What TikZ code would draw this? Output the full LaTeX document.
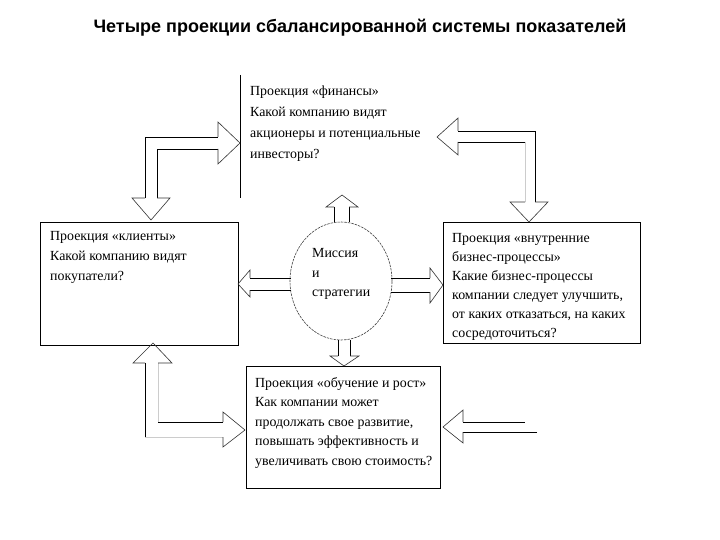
\documentclass[tikz,border=0pt]{standalone}
\usepackage{fontspec}
\setmainfont{Liberation Serif}
\newfontfamily\titlefont{Liberation Sans}
\usetikzlibrary{shapes.geometric}
\begin{document}
\begin{tikzpicture}[x=1pt,y=-1pt,
 box/.style={draw,line width=0.8pt,inner sep=0,anchor=north west},
 txt/.style={anchor=north west,align=left,inner sep=0},
 blk/.style={line width=0.7pt,line join=miter},
 hd/.style={line width=0.6pt,black!80},
 faint/.style={line width=0.5pt,black!20}]
\useasboundingbox (0,0) rectangle (720,540);
\fill[white] (0,0) rectangle (720,540);

% title
\node[font=\titlefont\bfseries\fontsize{18}{22}\selectfont] (title) at (360,28) {Четыре проекции сбалансированной системы показателей};

% boxes
\draw[line width=0.8pt] (240,75) -- (240,198);
\coordinate (fin) at (240,143);
\node[box,minimum width=198,minimum height=123] (cli) at (40,222) {};
\node[box,minimum width=197,minimum height=121] (proc) at (443,222) {};
\node[box,minimum width=194,minimum height=122] (learn) at (246,366) {};
\node[draw,black!75,line width=0.6pt,dash pattern=on 2.5pt off 1pt,ellipse,minimum width=102,minimum height=118,inner sep=0] (mis) at (341,281) {};

% texts
\node[txt,font=\fontsize{13.9}{21}\selectfont] (ftxt) at (250,85.5) {Проекция «финансы»\\Какой компанию видят\\акционеры и потенциальные\\инвесторы?};
\node[txt,font=\fontsize{13.9}{20}\selectfont] (ctxt) at (50,231.5) {Проекция «клиенты»\\Какой компанию видят\\покупатели?};
\node[txt,font=\fontsize{13.9}{19}\selectfont] (ptxt) at (452,233.5) {Проекция «внутренние\\бизнес-процессы»\\Какие бизнес-процессы\\компании следует улучшить,\\от каких отказаться, на каких\\сосредоточиться?};
\node[txt,font=\fontsize{13.9}{19.5}\selectfont] (ltxt) at (255,377) {Проекция «обучение и рост»\\Как компании может\\продолжать свое развитие,\\повышать эффективность и\\увеличивать свою стоимость?};
\node[txt,font=\fontsize{13.9}{19.5}\selectfont] (mtxt) at (312,248.5) {Миссия\\и\\стратегии};

% arrow A: finance <-> clients
\draw[blk] (145,198) -- (145,137) -- (218,137);
\draw[blk] (157,198) -- (157,149) -- (218,149);
\draw[hd] (218,137) -- (218,122) -- (240,143) -- (218,164) -- (218,149);
\draw[hd] (145,198) -- (132,198) -- (151,220) -- (170,198) -- (157,198);

% arrow B: finance <-> processes
\draw[blk] (458,131) -- (535,131) -- (535,202);
\draw[blk] (458,142) -- (525,142);
\draw[faint] (525,142) -- (525,202);
\draw[hd] (458,131) -- (458,118) -- (437,137) -- (458,155) -- (458,142);
\draw[hd] (535,202) -- (548,202) -- (529,222) -- (510,202) -- (525,202);

% arrow C: clients <-> learning
\draw[blk] (145,363) -- (145,437);
\draw[blk] (158,422) -- (223,422);
\draw[faint] (158,363) -- (158,422);
\draw[faint] (145,437) -- (223,437);
\draw[hd] (145,363) -- (133,363) -- (153,343) -- (172,363) -- (158,363);
\draw[hd] (223,422) -- (223,412) -- (245,430) -- (223,447) -- (223,437);

% arrow D: processes -> learning
\draw[blk] (537,432) -- (463,432);
\draw[blk] (463,422) -- (525,422);
\draw[hd] (463,432) -- (463,443) -- (443,427) -- (463,410) -- (463,422);

% arrow E: mission -> clients
\draw[blk] (291,278) -- (250,278);
\draw[blk] (291,290) -- (250,290);
\draw[hd] (250,278) -- (250,270) -- (238,284) -- (250,297) -- (250,290);

% arrow F: mission -> processes
\draw[blk] (391,278) -- (430,278);
\draw[blk] (391,292) -- (430,292);
\draw[hd] (430,278) -- (430,268) -- (443,285) -- (430,303) -- (430,292);

% arrow G: mission -> up
\draw[blk] (334,222) -- (334,207);
\draw[blk] (349,222) -- (349,207);
\draw[hd] (334,207) -- (326,207) -- (342,195) -- (358,207) -- (349,207);

% arrow H: mission -> learning
\draw[blk] (338,340) -- (338,356);
\draw[blk] (350,340) -- (350,356);
\draw[hd] (338,356) -- (330,356) -- (344,366) -- (359,356) -- (350,356);
\end{tikzpicture}
\end{document}
